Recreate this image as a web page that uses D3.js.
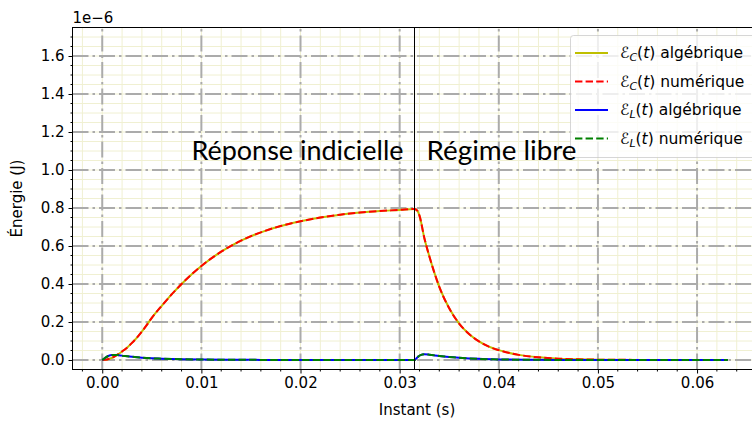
<!DOCTYPE html>
<html><head><meta charset="utf-8">
<script src="https://cdn.jsdelivr.net/npm/d3@7"></script>
<style>body{margin:0;background:#fff}svg{display:block}</style>
</head><body>
<script>
// ---------- data (energies in units of 1e-6 J, time in s) ----------
const tSwitch = 0.0315;
const tStep = [0,0.0005,0.001,0.0015,0.002,0.0025,0.003,0.0035,0.004,0.0045,0.005,0.006,0.007,0.008,0.009,0.010,0.012,0.014,0.016,0.018,0.020,0.022,0.024,0.026,0.028,0.030,0.0315];
const ecStep = [0,0.003,0.012,0.027,0.045,0.065,0.090,0.118,0.150,0.185,0.222,0.285,0.345,0.400,0.450,0.495,0.570,0.628,0.672,0.705,0.730,0.750,0.765,0.776,0.784,0.790,0.795];
const tFree = [0.0315,0.0318,0.032,0.0325,0.033,0.0335,0.034,0.035,0.036,0.037,0.038,0.039,0.040,0.042,0.044,0.046,0.048,0.050,0.055,0.060,0.0631];
const ecFree = [0.795,0.785,0.760,0.640,0.545,0.460,0.385,0.272,0.192,0.137,0.098,0.070,0.052,0.027,0.014,0.007,0.0035,0.0018,0.0004,0.0001,0];
const tStepL = [0,0.0003,0.0006,0.001,0.0015,0.002,0.003,0.004,0.005,0.006,0.008,0.010,0.013,0.016,0.020,0.025,0.0315];
const elStep = [0,0.012,0.021,0.026,0.026,0.023,0.017,0.012,0.009,0.007,0.004,0.0025,0.0012,0.0006,0.0002,0.0001,0];
const tFreeL = [0.0315,0.0318,0.0321,0.0325,0.033,0.034,0.035,0.036,0.038,0.040,0.043,0.046,0.050,0.055,0.0631];
const elFree = [0,0.015,0.026,0.030,0.028,0.021,0.016,0.012,0.006,0.003,0.0012,0.0005,0.0002,0.0001,0];
const xTicks = [0,0.01,0.02,0.03,0.04,0.05,0.06];
const yTicks = [0,0.2,0.4,0.6,0.8,1.0,1.2,1.4,1.6];
const legendLabels = [["C","algébrique"],["C","numérique"],["L","algébrique"],["L","numérique"]];

// ---------- layout ----------
const W = 752, H = 421;
const svg = d3.select("body").append("svg").attr("width", W).attr("height", H);
const x = d3.scaleLinear().domain([-0.003, 0.0665]).range([72.5, 761.5]);
const y = d3.scaleLinear().domain([-0.05, 1.75]).range([369.5, 27.5]);
const [X0, X1] = x.range(), [Y0, Y1] = y.range();

svg.append("defs").append("clipPath").attr("id","clip")
  .append("rect").attr("x",X0).attr("y",Y1).attr("width",X1-X0).attr("height",Y0-Y1);

const plot = svg.append("g").attr("clip-path","url(#clip)");

// minor grid
const xMinor = d3.range(-0.002, 0.0665, 0.002).map(v=>+v.toFixed(4));
const yMinor = d3.range(-0.05, 1.76, 0.05).map(v=>+v.toFixed(3));
plot.selectAll(".mgx").data(xMinor).join("line")
  .attr("x1",d=>x(d)).attr("x2",d=>x(d)).attr("y1",Y0).attr("y2",Y1)
  .attr("stroke","#f0f0d2").attr("stroke-width",1);
plot.selectAll(".mgy").data(yMinor).join("line")
  .attr("y1",d=>y(d)).attr("y2",d=>y(d)).attr("x1",X0).attr("x2",X1)
  .attr("stroke","#f0f0d2").attr("stroke-width",1);
// major grid
const dash = "16,4,2.5,4";
plot.selectAll(".gx").data(xTicks).join("line")
  .attr("x1",d=>x(d)).attr("x2",d=>x(d)).attr("y1",Y0).attr("y2",Y1)
  .attr("stroke","#ababab").attr("stroke-width",2).attr("stroke-dasharray",dash);
plot.selectAll(".gy").data(yTicks).join("line")
  .attr("y1",d=>y(d)).attr("y2",d=>y(d)).attr("x1",X0).attr("x2",X1)
  .attr("stroke","#ababab").attr("stroke-width",2).attr("stroke-dasharray",dash);

// curves
const line = d3.line().x(d=>x(d[0])).y(d=>y(d[1])).curve(d3.curveMonotoneX);
const ec = tStep.map((t,i)=>[t,ecStep[i]]).concat(tFree.slice(1).map((t,i)=>[t,ecFree[i+1]]));
const el = tStepL.map((t,i)=>[t,elStep[i]]).concat(tFreeL.slice(1).map((t,i)=>[t,elFree[i+1]]));
const series = [
  {d:ec, c:"#bfbf00", dash:null},
  {d:ec, c:"#ff0000", dash:"7.4,3.2"},
  {d:el, c:"#0000ff", dash:null},
  {d:el, c:"#008000", dash:"7.4,3.2"}
];
series.forEach(s=>{
  plot.append("path").attr("d",line(s.d)).attr("fill","none")
    .attr("stroke",s.c).attr("stroke-width",2).attr("stroke-dasharray",s.dash);
});

// switch line
const xs = Math.floor(x(tSwitch)) + 0.5;
plot.append("line").attr("x1",xs).attr("x2",xs).attr("y1",Y0).attr("y2",Y1)
  .attr("stroke","#000").attr("stroke-width",1);

// spines
svg.append("rect").attr("x",X0).attr("y",Y1).attr("width",X1-X0).attr("height",Y0-Y1)
  .attr("fill","none").attr("stroke","#000").attr("stroke-width",1);

// axes
const font = "'DejaVu Sans', sans-serif";
const gx = svg.append("g").attr("transform",`translate(0,${Y0})`)
  .call(d3.axisBottom(x).tickValues(xTicks).tickFormat(d3.format(".2f")).tickSize(4).tickPadding(4));
const gy = svg.append("g").attr("transform",`translate(${X0},0)`)
  .call(d3.axisLeft(y).tickValues(yTicks).tickFormat(d3.format(".1f")).tickSize(4).tickPadding(4));
[gx,gy].forEach(g=>{
  g.select(".domain").remove();
  g.selectAll("text").attr("font-family",font).attr("font-size",15).attr("fill","#000");
  g.selectAll("line").attr("stroke","#000");
});
// minor ticks
svg.append("g").selectAll("line").data(xMinor.filter(v=>!xTicks.some(t=>Math.abs(t-v)<1e-6))).join("line")
  .attr("x1",d=>x(d)).attr("x2",d=>x(d)).attr("y1",Y0).attr("y2",Y0+2).attr("stroke","#000");
svg.append("g").selectAll("line").data(yMinor.filter(v=>!yTicks.some(t=>Math.abs(t-v)<1e-6) && v>-0.04 && v<1.74)).join("line")
  .attr("y1",d=>y(d)).attr("y2",d=>y(d)).attr("x1",X0).attr("x2",X0-2).attr("stroke","#000");

// labels
svg.append("text").attr("x",(X0+X1)/2).attr("y",415).attr("text-anchor","middle")
  .attr("font-family",font).attr("font-size",15).text("Instant (s)");
svg.append("text").attr("transform",`translate(22,${(Y0+Y1)/2}) rotate(-90)`).attr("text-anchor","middle")
  .attr("font-family",font).attr("font-size",15).text("Énergie (J)");
svg.append("text").attr("x",X0).attr("y",23).attr("font-family",font).attr("font-size",15).text("1e−6");

// legend
const lg = svg.append("g");
lg.append("rect").attr("x",570.5).attr("y",35.5).attr("width",190).attr("height",122).attr("rx",3)
  .attr("fill","rgba(255,255,255,0.8)").attr("stroke","rgba(204,204,204,0.8)");
legendLabels.forEach((lab,i)=>{
  const ry = 53 + i*28.5;
  const s = series[i];
  lg.append("line").attr("x1",575).attr("x2",608).attr("y1",ry).attr("y2",ry)
    .attr("stroke",s.c).attr("stroke-width",2).attr("stroke-dasharray",s.dash);
  const t = lg.append("text").attr("x",620).attr("y",ry+5).attr("font-family",font).attr("font-size",15.5);
  t.append("tspan").text("ℰ");
  t.append("tspan").attr("font-style","italic").attr("font-size",11).attr("dy",3).text(lab[0]);
  t.append("tspan").attr("dy",-3).text("(");
  t.append("tspan").attr("font-style","italic").text("t");
  t.append("tspan").text(") " + lab[1]);
});

// annotations (drawn on top)
const bigFont = "Lato, 'Open Sans', sans-serif";
svg.append("text").attr("x",xs-11).attr("y",160).attr("text-anchor","end")
  .attr("font-family",bigFont).attr("font-size",26.5)
  .attr("textLength",212).attr("lengthAdjust","spacingAndGlyphs")
  .text("Réponse indicielle");
svg.append("text").attr("x",xs+12).attr("y",160).attr("text-anchor","start")
  .attr("font-family",bigFont).attr("font-size",26.5)
  .attr("textLength",150).attr("lengthAdjust","spacingAndGlyphs")
  .text("Régime libre");
</script>
</body></html>
